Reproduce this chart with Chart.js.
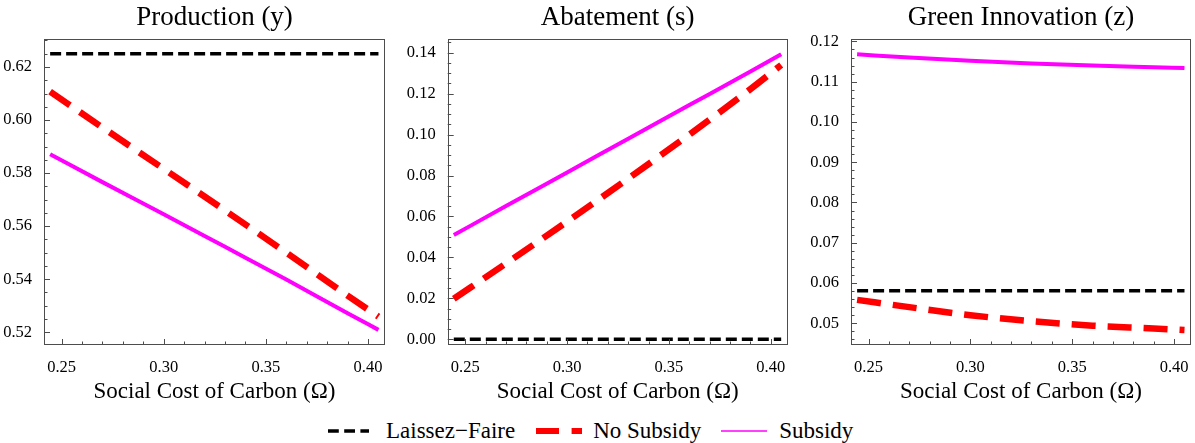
<!DOCTYPE html>
<html>
<head>
<meta charset="utf-8">
<script src="https://cdn.jsdelivr.net/npm/chart.js@4.4.0/dist/chart.umd.min.js"></script>
<style>
  body { margin: 0; background: #fff; width: 1195px; height: 443px; position: relative; overflow: hidden;
         font-family: 'Liberation Serif', 'Times New Roman', serif; }
  .panel { position: absolute; top: 0; }
  #legend { position: absolute; left: 328px; top: 417px; height: 28px; display: flex; align-items: center;
            font-size: 23px; white-space: nowrap; color: #000; }
  #legend svg { display: block; }
</style>
</head>
<body>
<canvas id="c1" class="panel" style="left:0px" width="395" height="410"></canvas>
<canvas id="c2" class="panel" style="left:395px" width="400" height="410"></canvas>
<canvas id="c3" class="panel" style="left:795px" width="400" height="410"></canvas>
<div id="legend">
  <svg width="41" height="10"><line x1="0" y1="5" x2="41" y2="5" stroke="#000" stroke-width="3.5" stroke-dasharray="10.8 5.4"/></svg>
  <span style="margin:0 21px 0 17px">Laissez−Faire</span>
  <svg width="46" height="10"><line x1="0" y1="5" x2="46" y2="5" stroke="#ff0000" stroke-width="6" stroke-dasharray="23 12.6"/></svg>
  <span style="margin:0 20px 0 11px">No Subsidy</span>
  <svg width="46" height="10"><line x1="0" y1="5" x2="46" y2="5" stroke="#ff00ff" stroke-width="1.6"/></svg>
  <span style="margin-left:12px">Subsidy</span>
</div>
<script>
// Social cost of carbon (x values)
var omega = [0.2444, 0.27, 0.30, 0.33, 0.36, 0.39, 0.4051];
var omegaTicks = [0.25, 0.30, 0.35, 0.40];

// Production (y)
var prodLaissez = [0.625, 0.625, 0.625, 0.625, 0.625, 0.625, 0.625];
var prodNoSub = [0.6107, 0.5972, 0.5816, 0.5659, 0.5500, 0.5338, 0.5259];
var prodSub = [0.5871, 0.5766, 0.5645, 0.5522, 0.5399, 0.5272, 0.5209];
var prodTicks = [0.52, 0.54, 0.56, 0.58, 0.60, 0.62];

// Abatement (s)
var abatLaissez = [0, 0, 0, 0, 0, 0, 0];
var abatNoSub = [0.0198, 0.0370, 0.0575, 0.0785, 0.1000, 0.1222, 0.1340];
var abatSub = [0.0509, 0.0651, 0.0815, 0.0980, 0.1144, 0.1308, 0.1392];
var abatTicks = [0.00, 0.02, 0.04, 0.06, 0.08, 0.10, 0.12, 0.14];

// Green Innovation (z)
var innovLaissez = [0.0581, 0.0581, 0.0581, 0.0581, 0.0581, 0.0581, 0.0581];
var innovNoSub = [0.0558, 0.0540, 0.0520, 0.0505, 0.0494, 0.0487, 0.0483];
var innovSub = [0.1168, 0.1160, 0.1152, 0.1145, 0.1140, 0.1136, 0.1134];
var innovTicks = [0.05, 0.06, 0.07, 0.08, 0.09, 0.10, 0.11, 0.12];

var serif = "'Liberation Serif', 'Times New Roman', serif";

// frame + inward ticks (Mathematica style)
var frameTicks = {
    id: 'frameTicks',
    afterDatasetsDraw: function (chart, args, opts) {
        var ctx = chart.ctx, a = chart.chartArea;
        var xs = chart.scales.x, ys = chart.scales.y;
        ctx.save();
        ctx.strokeStyle = '#4d4d4d';
        ctx.lineWidth = 1;
        ctx.strokeRect(Math.round(a.left) + 0.5, Math.round(a.top) + 0.5,
            Math.round(a.width) - 1, Math.round(a.height) - 1);
        ctx.beginPath();
        var i, v, p, len;
        for (i = Math.ceil(xs.min / 0.01 - 1e-6); i * 0.01 <= xs.max + 1e-9; i++) {
            p = Math.round(xs.getPixelForValue(i * 0.01)) + 0.5;
            len = (i % 5 === 0) ? 6 : 3.5;
            ctx.moveTo(p, a.bottom);
            ctx.lineTo(p, a.bottom - len);
        }
        for (i = Math.ceil(ys.min / opts.yMinor - 1e-6); i * opts.yMinor <= ys.max + 1e-9; i++) {
            p = Math.round(ys.getPixelForValue(i * opts.yMinor)) + 0.5;
            len = (i % opts.yEvery === 0) ? 6 : 3.5;
            ctx.moveTo(a.left, p);
            ctx.lineTo(a.left + len, p);
        }
        ctx.stroke();
        ctx.restore();
    }
};

function points(ys) {
    return omega.map(function (x, i) { return { x: x, y: ys[i] }; });
}

function makePanel(id, title, yMin, yMax, yTicks, yWidth, padRight, yMinor, yEvery, laissez, noSub, sub) {
    var ctx = document.getElementById(id).getContext('2d');
    return new Chart(ctx, {
        type: 'line',
        data: {
            datasets: [{
                label: 'Subsidy',
                data: points(sub),
                borderColor: '#ff00ff',
                borderWidth: 4,
                order: 1
            }, {
                label: 'No Subsidy',
                data: points(noSub),
                borderColor: '#ff0000',
                borderWidth: 6.5,
                borderDash: [24, 12],
                order: 2
            }, {
                label: 'Laissez−Faire',
                data: points(laissez),
                borderColor: '#000000',
                borderWidth: 3.5,
                borderDash: [11, 5],
                order: 3
            }]
        },
        options: {
            responsive: false,
            animation: false,
            events: [],
            layout: { padding: { left: 0, right: padRight, top: 0, bottom: 0 } },
            elements: {
                point: { radius: 0 },
                line: { cubicInterpolationMode: 'monotone', fill: false }
            },
            plugins: {
                legend: { display: false },
                tooltip: { enabled: false },
                title: {
                    display: true,
                    text: title,
                    fullSize: false,
                    color: '#000',
                    font: { family: serif, size: 27, weight: 'normal', lineHeight: 1.2 },
                    padding: { top: 2, bottom: 5 }
                },
                frameTicks: { yMinor: yMinor, yEvery: yEvery }
            },
            scales: {
                x: {
                    type: 'linear',
                    min: 0.2414,
                    max: 0.4083,
                    grid: { display: false },
                    border: { display: false },
                    afterBuildTicks: function (s) {
                        s.ticks = omegaTicks.map(function (v) { return { value: v }; });
                    },
                    ticks: {
                        color: '#000',
                        padding: 5,
                        maxRotation: 0,
                        font: { family: serif, size: 16.5 },
                        callback: function (v) { return v.toFixed(2); }
                    },
                    title: {
                        display: true,
                        text: 'Social Cost of Carbon (Ω)',
                        color: '#000',
                        font: { family: serif, size: 23, lineHeight: 1.2 },
                        padding: { top: 0, bottom: 4 }
                    },
                    afterFit: function (s) { s.height = 65; }
                },
                y: {
                    type: 'linear',
                    min: yMin,
                    max: yMax,
                    grid: { display: false },
                    border: { display: false },
                    afterBuildTicks: function (s) {
                        s.ticks = yTicks.map(function (v) { return { value: v }; });
                    },
                    ticks: {
                        color: '#000',
                        padding: 4,
                        font: { family: serif, size: 16.5 },
                        callback: function (v) { return v.toFixed(2); }
                    },
                    afterFit: function (s) { s.width = yWidth; }
                }
            }
        },
        plugins: [frameTicks]
    });
}

makePanel('c1', 'Production (y)', 0.5152, 0.6304, prodTicks, 44, 10, 0.005, 4,
    prodLaissez, prodNoSub, prodSub);
makePanel('c2', 'Abatement (s)', -0.0028, 0.1465, abatTicks, 52.7, 7.3, 0.005, 4,
    abatLaissez, abatNoSub, abatSub);
makePanel('c3', 'Green Innovation (z)', 0.0446, 0.1205, innovTicks, 56, 4, 0.002, 5,
    innovLaissez, innovNoSub, innovSub);
</script>
</body>
</html>
